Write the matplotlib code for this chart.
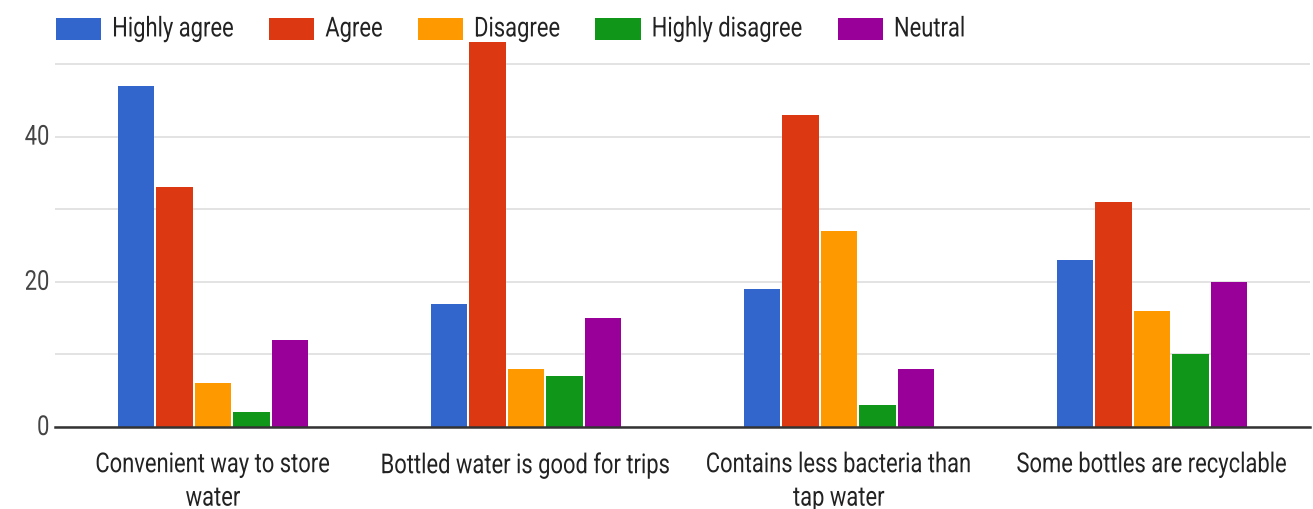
import matplotlib
matplotlib.use("Agg")
import matplotlib.pyplot as plt
from matplotlib import patheffects
from matplotlib.transforms import Affine2D
import numpy as np

categories = [
    "Convenient way to store\nwater",
    "Bottled water is good for trips",
    "Contains less bacteria than\ntap water",
    "Some bottles are recyclable",
]
series_names = ["Highly agree", "Agree", "Disagree", "Highly disagree", "Neutral"]
highly_agree = [47, 17, 19, 23]
agree = [33, 53, 43, 31]
disagree = [6, 8, 27, 16]
highly_disagree = [2, 7, 3, 10]
neutral = [12, 15, 8, 20]
series_values = [highly_agree, agree, disagree, highly_disagree, neutral]
colors = ["#3366cc", "#dc3912", "#ff9900", "#109618", "#990099"]
y_ticks = [0, 20, 40]


class TallText(patheffects.AbstractPathEffect):
    """Draw glyphs stretched vertically from their baseline."""

    def __init__(self, sy):
        super().__init__()
        self.sy = sy

    def draw_path(self, renderer, gc, tpath, affine, rgbFace=None):
        renderer.draw_path(gc, tpath, Affine2D().scale(1, self.sy) + affine, rgbFace)


plt.rcParams["font.family"] = ["Roboto", "DejaVu Sans"]
FS = 15.8
tall = [TallText(1.25)]

fig = plt.figure(figsize=(13.13, 5.09), dpi=100)
ax = fig.add_axes([55 / 1313, (509 - 427) / 509, (1310 - 55) / 1313, (427 - 6) / 509])

x = np.arange(len(categories))
slot = 0.123
bar_w = 0.116
n = len(series_names)
for i, (name, vals, c) in enumerate(zip(series_names, series_values, colors)):
    offs = (i - (n - 1) / 2) * slot
    ax.bar(x + offs, vals, width=bar_w, color=c, label=name, zorder=3)

ax.set_xlim(-0.505, 3.505)
ax.set_ylim(0, 58)
ax.set_yticks(y_ticks)
ax.set_yticks([10, 30, 50], minor=True)
ax.grid(axis="y", which="both", color="#e0e0e0", linewidth=1.3, zorder=0)
ax.tick_params(axis="y", which="both", length=0, labelsize=FS, labelcolor="#444444", pad=4)
ax.set_xticks(x)
ax.set_xticklabels(categories, fontsize=FS, color="#222222", linespacing=1.78)
ax.tick_params(axis="x", length=0, pad=21)
for s in ["top", "right", "left"]:
    ax.spines[s].set_visible(False)
ax.spines["bottom"].set_color("#333333")
ax.spines["bottom"].set_linewidth(1.8)
ax.spines["bottom"].set_zorder(4)

for t in ax.get_xticklabels() + ax.get_yticklabels():
    t.set_path_effects(tall)

leg = fig.legend(
    loc="upper left",
    bbox_to_anchor=(47 / 1313, 1 - 9 / 509),
    ncol=5,
    frameon=False,
    fontsize=FS,
    handlelength=2.07,
    handleheight=1.2,
    handletextpad=0.5,
    columnspacing=1.6,
    borderaxespad=0,
    labelcolor="#222222",
)
for t in leg.get_texts():
    t.set_path_effects(tall)

fig.savefig("out.png", dpi=100, facecolor="white")
